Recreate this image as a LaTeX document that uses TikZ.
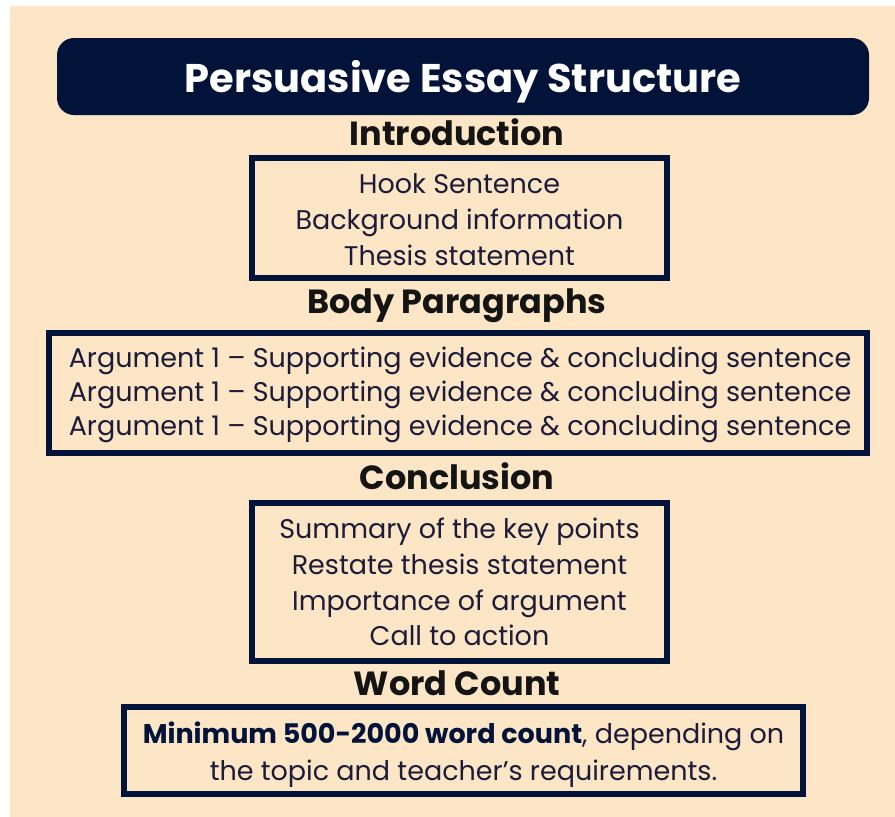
\documentclass[tikz,border=0pt]{standalone}
\usepackage{fontspec}
\setmainfont{Poppins}
\usetikzlibrary{positioning}
\definecolor{peach}{HTML}{FCE6C6}
\definecolor{navy}{HTML}{02133A}
\definecolor{inkblue}{HTML}{1C1B3A}
\tikzset{
  titlebar/.style = {fill=navy, rounded corners=17pt, minimum width=812pt,
                     minimum height=77pt, inner sep=0pt},
  ttl/.style      = {text=white, anchor=base, inner sep=0pt,
                     font=\fontsize{40}{40}\selectfont\bfseries},
  sechead/.style  = {text=black!92, anchor=base, inner sep=0pt,
                     font=\fontsize{33.5}{33.5}\selectfont\bfseries},
  secbox/.style   = {draw=navy, line width=6pt, inner sep=0pt},
  itemtxt/.style  = {text=inkblue, anchor=base, inner sep=0pt,
                     font=\fontsize{27}{27}\selectfont},
}

\begin{document}
\begin{tikzpicture}[x=1pt, y=-1pt]
  % page and paper
  \fill[white] (0,0) rectangle (895,817);
  \fill[peach] (10,6) rectangle (895,817);
  \useasboundingbox (0,0) rectangle (895,817);
  % title
  \node[titlebar] (bar) at (463,76.5) {};
  \node[ttl] (title) at (463,92) {Persuasive Essay Structure};
  % introduction
  \node[sechead] (introhd) at (457,145) {Introduction};
  \node[secbox, minimum width=415pt, minimum height=120pt] (introbox) at (459.5,218) {};
  \node[itemtxt] (hook) at (459.5,193) {Hook Sentence};
  \node[itemtxt] (backgr) at (459.5,229) {Background information};
  \node[itemtxt] (thesis) at (459.5,265) {Thesis statement};
  % body paragraphs
  \node[sechead] (bodyhd) at (457,313) {Body Paragraphs};
  \node[secbox, minimum width=818pt, minimum height=120pt] (bodybox) at (458,393) {};
  \node[itemtxt] (argA) at (460,367) {Argument 1 – Supporting evidence \& concluding sentence};
  \node[itemtxt] (argB) at (460,401) {Argument 1 – Supporting evidence \& concluding sentence};
  \node[itemtxt] (argC) at (460,435) {Argument 1 – Supporting evidence \& concluding sentence};
  % conclusion
  \node[sechead] (conchd) at (457,489) {Conclusion};
  \node[secbox, minimum width=415pt, minimum height=158pt] (concbox) at (459.5,582) {};
  \node[itemtxt] (summ) at (459.5,538) {Summary of the key points};
  \node[itemtxt] (restate) at (459.5,574) {Restate thesis statement};
  \node[itemtxt] (import) at (459.5,610) {Importance of argument};
  \node[itemtxt] (call) at (459.5,645) {Call to action};
  % word count
  \node[sechead] (wordhd) at (457,695) {Word Count};
  \node[secbox, minimum width=679pt, minimum height=87pt] (wordbox) at (463.5,750.5) {};
  \node[itemtxt] (wordA) at (463.5,743)
    {{\color{navy}\bfseries Minimum 500-2000 word count}, depending on};
  \node[itemtxt] (wordB) at (463.5,780) {the topic and teacher’s requirements.};
\end{tikzpicture}
\end{document}
